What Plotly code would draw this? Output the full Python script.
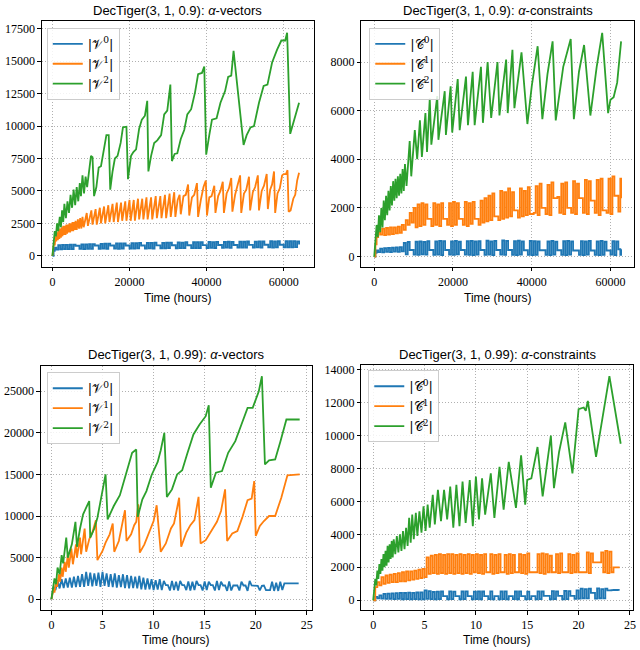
import plotly.graph_objects as go

# ---------------- DecTiger(3,1,0.9) : time grids (hours) ----------------
t_vec09 = [0, 300, 600, 1000, 1500, 2000, 2500, 3000, 3500, 4000,
           4500, 5000, 5500, 6000, 6500, 7000, 7500, 8000, 8500, 9000,
           9500, 10000, 10500, 11000, 11500, 12000, 12500, 13000, 13500, 14000,
           14500, 15000, 15500, 16000, 16500, 17000, 17500, 18000, 18500, 19000,
           19500, 20000, 20500, 21000, 21500, 22000, 22500, 23000, 23500, 24000,
           24500, 25000, 25500, 26000, 26500, 27000, 27500, 28000, 28500, 29000,
           29500, 30000, 30500, 31000, 31500, 32000, 32500, 33000, 33500, 34000,
           34500, 35000, 35500, 36000, 36500, 37000, 37500, 38000, 38500, 39000,
           39500, 40000, 40500, 41000, 41500, 42000, 42500, 43000, 43500, 44000,
           44500, 45000, 45500, 46000, 46500, 47000, 47500, 48000, 48500, 49000,
           49500, 50000, 50500, 51000, 51500, 52000, 52500, 53000, 53500, 54000,
           54500, 55000, 55500, 56000, 56500, 57000, 57500, 58000, 58500, 59000,
           59500, 60000, 60500, 61000, 61500, 62000, 62500, 63000, 63500, 64000]

t_con09 = [0, 300, 600, 1000, 1500, 2000, 2500, 3000, 3500, 4000,
           4500, 5000, 5500, 6000, 6500, 7000, 7500, 8000, 8500, 9000,
           9500, 10000, 10500, 11000, 11500, 12000, 12500, 13000, 13500, 14000,
           14500, 15000, 15500, 16000, 16500, 17000, 17500, 18000, 18500, 19000,
           19500, 20000, 20500, 21000, 21500, 22000, 22500, 23000, 23500, 24000,
           24500, 25000, 25500, 26000, 26500, 27000, 27500, 28000, 28500, 29000,
           29500, 30000, 30500, 31000, 31500, 32000, 32500, 33000, 33500, 34000,
           34500, 35000, 35500, 36000, 36500, 37000, 37500, 38000, 38500, 39000,
           39500, 40000, 40500, 41000, 41500, 42000, 42500, 43000, 43500, 44000,
           44500, 45000, 45500, 46000, 46500, 47000, 47500, 48000, 48500, 49000,
           49500, 50000, 50500, 51000, 51500, 52000, 52500, 53000, 53500, 54000,
           54500, 55000, 55500, 56000, 56500, 57000, 57500, 58000, 58500, 59000,
           59500, 60000, 60500, 61000, 61500, 62000, 62500, 62700]

# |V^0| (0.9)
v0_09 = [0, 380, 620, 480, 820, 500, 830, 520, 840, 510,
         850, 520, 860, 760, 770, 530, 870, 520, 880, 540,
         890, 530, 900, 780, 790, 540, 920, 550, 930, 540,
         940, 780, 790, 550, 950, 540, 960, 560, 950, 790,
         790, 560, 970, 550, 980, 570, 990, 790, 800, 560,
         1000, 570, 990, 560, 1010, 800, 800, 580, 1000, 570,
         1020, 590, 1010, 810, 810, 580, 1030, 590, 1020, 600,
         1040, 810, 820, 590, 1040, 600, 1050, 590, 1040, 820,
         820, 600, 1060, 610, 1050, 600, 1070, 830, 830, 610,
         1060, 620, 1080, 610, 1070, 830, 840, 620, 1090, 630,
         1080, 620, 1100, 840, 840, 630, 1090, 640, 1110, 630,
         1100, 850, 850, 640, 1120, 630, 1110, 650, 1120, 850,
         850, 640, 1130, 650, 1120, 640, 1130, 660, 1110, 870]

# |V^1| (0.9)  (hours, size)
v1_09 = [(0, 0), (200, 500), (400, 1000), (600, 800), (800, 1500), (1000, 1100), (1200, 1800), (1400, 1200),
         (1600, 2000), (1800, 1300), (2000, 2100), (2200, 1400), (2400, 2200), (2600, 1500), (2800, 2300),
         (3000, 1600), (3200, 2300), (3400, 1600), (3600, 2400), (3800, 1700), (4000, 2400), (4200, 1800),
         (4400, 2500), (4600, 1800), (4800, 2500), (5000, 1900), (5200, 2600), (5400, 1900), (5600, 2600),
         (5800, 2000), (6000, 2700), (6300, 2000), (6600, 2800), (6900, 2100), (7200, 2900), (7500, 2100),
         (7800, 3000), (8100, 2200),
         (8900, 3300), (9200, 2300), (10100, 3500), (10400, 2400), (11200, 3600), (11500, 2400), (12300, 3700),
         (12600, 2500), (13400, 3800), (13700, 2500), (14500, 3900), (14800, 2600), (15600, 4000), (15900, 2600),
         (16700, 4100), (17000, 2600), (17800, 4100), (18100, 2700), (18900, 4200), (19200, 2700), (20000, 4300),
         (20300, 2700), (21100, 4300), (21400, 2700), (22200, 4400), (22500, 2800), (23300, 4400), (23600, 2800),
         (24400, 4500), (24700, 2800), (25600, 4500), (25900, 2800), (26800, 4600), (27100, 2900), (28000, 4600),
         (28300, 2900), (29200, 4700), (29500, 2900), (30400, 4800), (30700, 3000), (31600, 4900), (31900, 3000),
         (32500, 4300), (33000, 4700), (33300, 3200), (34000, 4600), (34600, 4700), (35200, 5500), (35500, 3100),
         (36200, 4500), (36800, 4700), (37500, 5600), (37800, 3000), (38500, 4300), (39200, 5300), (39800, 5800),
         (40100, 3100), (40700, 4500), (41300, 4600), (42000, 5400), (42300, 3300), (43000, 4600), (43600, 5000),
         (44200, 5700), (44500, 3300), (45200, 4800), (45800, 5200), (46400, 6000), (46700, 3400), (47400, 4700),
         (48000, 5300), (48700, 6200), (49000, 3300), (49700, 4800), (50300, 5100), (51000, 6100), (51300, 3500),
         (52000, 4900), (52600, 5300), (53300, 6200), (53600, 3500), (54300, 5000), (54900, 5400), (55600, 6300),
         (55900, 3600), (56500, 5100), (57000, 5500), (57500, 6500), (57800, 3300), (58400, 4800), (59000, 5200),
         (59600, 6200), (60000, 6300), (60600, 6300), (61000, 6600), (61300, 3400), (61800, 3500), (62500, 4400),
         (63000, 4700), (63500, 5800), (64000, 6400)]

# |V^2| (0.9)
v2_09 = [(0, 0), (300, 1200), (600, 1900), (900, 1500), (1200, 2500), (1500, 1900), (1900, 3000), (2200, 2200),
         (2500, 3500), (2800, 2600), (3100, 4000), (3500, 2900), (3900, 4200), (4300, 3300), (4700, 4700),
         (5100, 3700), (5500, 5100), (5900, 3900), (6300, 5300), (6700, 4200), (7100, 5600), (7400, 4600),
         (7800, 6200), (8200, 4800), (8600, 6100), (9000, 5300), (9500, 6700), (10000, 7700), (10400, 7600),
         (10800, 4600), (11400, 5300), (12000, 6800), (12600, 6900), (13300, 8200), (14000, 9300), (14600, 9300),
         (15000, 5100), (15600, 6500), (16200, 7500), (16900, 7700), (17700, 8700), (18300, 9900), (19200, 9950),
         (19600, 5900), (20400, 7700), (21000, 8000), (21700, 8200), (22500, 9800), (23200, 10500), (24000, 10800),
         (24600, 11950), (24900, 6500), (25600, 7700), (26400, 8700), (27200, 8900), (28200, 9300), (29000, 10900),
         (29800, 11200), (30600, 13200), (31000, 7300), (31700, 7850), (32400, 7900), (33300, 9000), (34200, 9700),
         (35000, 10900), (36000, 11300), (37000, 12600), (37800, 14000), (38800, 14100), (39400, 14600),
         (39900, 7800), (40700, 9300), (41400, 10500), (42600, 10600), (43600, 11800), (44800, 12700),
         (45600, 13800), (46400, 13900), (47000, 15800), (49600, 8550), (50400, 9300), (51400, 9900),
         (52300, 10000), (53600, 11800), (54800, 13100), (55800, 13200), (57000, 14900), (58300, 15900),
         (59400, 16600), (60400, 16600), (60900, 17200), (61700, 9400), (62500, 10200), (63200, 11000),
         (64000, 11800)]

# |C^0| (0.9)
c0_09 = [0, 150, 250, 180, 330, 170, 350, 190, 360, 180,
         370, 200, 380, 190, 390, 210, 560, 90, 600, 270,
         270, 80, 610, 70, 620, 90, 600, 80, 630, 270,
         270, 70, 620, 80, 640, 60, 630, 270, 270, 80,
         620, 70, 640, 90, 610, 270, 270, 80, 630, 70,
         640, 60, 620, 80, 630, 270, 270, 70, 650, 80,
         620, 60, 640, 270, 270, 80, 660, 70, 640, 270,
         270, 70, 630, 60, 650, 80, 620, 260, 260, 70,
         640, 60, 630, 70, 620, 260, 260, 260, 70, 620,
         60, 640, 80, 610, 260, 260, 70, 630, 60, 640,
         80, 620, 250, 250, 250, 70, 630, 60, 620, 80,
         640, 250, 250, 70, 620, 60, 640, 70, 610, 250,
         250, 80, 630, 60, 620, 300, 70, 300]

# |C^1| (0.9)
c1_09 = [0, 500, 800, 1000, 900, 1150, 880, 1180, 900, 1200,
         920, 1200, 950, 1230, 980, 1300, 1100, 1500, 1300, 1800,
         1400, 2000, 1200, 2150, 1250, 2200, 1300, 2150, 1550, 1550,
         1250, 2200, 1300, 2150, 1250, 2200, 1550, 1550, 1300, 2200,
         1250, 2250, 1300, 2200, 1550, 1550, 1300, 2250, 1250, 2200,
         1350, 2250, 1550, 1550, 1300, 2300, 1400, 2400, 1450, 2500,
         1500, 2600, 1650, 1650, 1500, 2700, 1550, 2650, 1600, 2800,
         1650, 2650, 1900, 1900, 1600, 2800, 1650, 2700, 1700, 2850,
         1750, 1750, 1800, 2900, 1700, 3000, 2000, 2000, 1750, 2950,
         1700, 3050, 2400, 2400, 2450, 1800, 3000, 1750, 3050, 2000,
         2000, 1800, 3100, 1750, 3000, 2400, 2400, 1800, 3150, 1750,
         3100, 2300, 2300, 1800, 3150, 1700, 3200, 1900, 1900, 1800,
         3200, 1750, 3300, 2500, 2500, 1850, 3200, 2400]

# |C^2| (0.9)
c2_09 = [(0, 0), (300, 900), (600, 1300), (900, 800), (1200, 1700), (1500, 1000), (1800, 2000), (2100, 1200),
         (2400, 2300), (2700, 1500), (3000, 2500), (3300, 1700), (3600, 2700), (3900, 1900), (4200, 2900),
         (4500, 2100), (4800, 3100), (5100, 2300), (5400, 3200), (5700, 2400), (6000, 3300), (6300, 2500),
         (6600, 3400), (6900, 2600), (7200, 3600), (7500, 2700), (7800, 3800), (8200, 2900),
         (9000, 4750), (9400, 3300), (10300, 5200), (10900, 4000), (11600, 5600), (12100, 4100), (13000, 5900),
         (13400, 4300), (14100, 6500), (14500, 4600), (16000, 6600), (16300, 4800), (17900, 6800), (18200, 5000),
         (19400, 7000), (19800, 5100), (21200, 7300), (21700, 5200), (23300, 7400), (23800, 5400), (25000, 7600),
         (25500, 5400), (27100, 7800), (27600, 5500), (28800, 8000), (29700, 5700), (31300, 8000), (31800, 5800),
         (33500, 8100), (33900, 5900), (35100, 8500), (35600, 6100), (37400, 8400), (38900, 5450), (40000, 7000),
         (41500, 8650), (42700, 5650), (44000, 7500), (45300, 8850), (46100, 5600), (48000, 7800), (49900, 8950),
         (50700, 5650), (52000, 7600), (53300, 8700), (54900, 5800), (56500, 7800), (57900, 9200), (59400, 5900),
         (60000, 6450), (60800, 6550), (61700, 7150), (62700, 8850)]

# ---------------- DecTiger(3,1,0.99) ----------------
t_vec099 = [0.0, 0.2, 0.4, 0.6, 0.8, 1.0, 1.2, 1.4, 1.6, 1.8,
            2.0, 2.2, 2.4, 2.6, 2.8, 3.0, 3.2, 3.4, 3.6, 3.8,
            4.0, 4.2, 4.4, 4.6, 4.8, 5.0, 5.2, 5.4, 5.6, 5.8,
            6.0, 6.2, 6.4, 6.6, 6.8, 7.0, 7.2, 7.4, 7.6, 7.8,
            8.0, 8.2, 8.4, 8.6, 8.8, 9.0, 9.2, 9.4, 9.6, 9.8,
            10.0, 10.2, 10.4, 10.6, 10.8, 11.0, 11.2, 11.4, 11.6, 11.8,
            12.0, 12.2, 12.4, 12.6, 12.8, 13.0, 13.2, 13.4, 13.6, 13.8,
            14.0, 14.2, 14.4, 14.6, 14.8, 15.0, 15.2, 15.4, 15.6, 15.8,
            16.0, 16.2, 16.4, 16.6, 16.8, 17.0, 17.2, 17.4, 17.6, 17.8,
            18.0, 18.2, 18.4, 18.6, 18.8, 19.0, 19.2, 19.4, 19.6, 19.8,
            20.0, 20.2, 20.4, 20.6, 20.8, 21.0, 21.2, 21.4, 21.6, 21.8,
            22.0, 22.2, 22.4, 22.6, 22.8, 23.0, 23.2, 23.4, 23.6, 23.8,
            24.0, 24.2]

t_con099 = [0.0, 0.2, 0.4, 0.6, 0.8, 1.0, 1.2, 1.4, 1.6, 1.8,
            2.0, 2.2, 2.4, 2.6, 2.8, 3.0, 3.2, 3.4, 3.6, 3.8,
            4.0, 4.2, 4.4, 4.6, 4.8, 5.0, 5.2, 5.4, 5.6, 5.8,
            6.0, 6.2, 6.4, 6.6, 6.8, 7.0, 7.2, 7.4, 7.6, 7.8,
            8.0, 8.2, 8.4, 8.6, 8.8, 9.0, 9.2, 9.4, 9.6, 9.8,
            10.0, 10.2, 10.4, 10.6, 10.8, 11.0, 11.2, 11.4, 11.6, 11.8,
            12.0, 12.2, 12.4, 12.6, 12.8, 13.0, 13.2, 13.4, 13.6, 13.8,
            14.0, 14.2, 14.4, 14.6, 14.8, 15.0, 15.2, 15.4, 15.6, 15.8,
            16.0, 16.2, 16.4, 16.6, 16.8, 17.0, 17.2, 17.4, 17.6, 17.8,
            18.0, 18.2, 18.4, 18.6, 18.8, 19.0, 19.2, 19.4, 19.6, 19.8,
            20.0, 20.2, 20.4, 20.6, 20.8, 21.0, 21.2, 21.4, 21.6, 21.8,
            22.0, 22.2, 22.4, 22.6, 22.8, 23.0, 23.2, 23.4, 23.6, 23.8,
            24.0]

# |V^0| (0.99)
v0_099 = [0, 1500, 1100, 2300, 1300, 2400, 1350, 2500, 1400, 2600,
          1400, 2700, 1450, 2800, 1500, 3000, 1500, 3300, 1600, 3200,
          1550, 3100, 1600, 3200, 1500, 3300, 1600, 3100, 1500, 3000,
          1450, 3100, 1400, 2900, 1450, 3000, 1350, 2900, 1300, 2800,
          1350, 2700, 1300, 2800, 1200, 2600, 1150, 2500, 1200, 2400,
          1100, 2300, 1150, 2400, 1100, 2200, 1700, 1700, 1050, 2200,
          1100, 2100, 1050, 2200, 1700, 1700, 1100, 2150, 1050, 2100,
          1100, 2200, 1700, 1700, 1050, 2150, 1100, 2100, 1700, 1700,
          1050, 2200, 1100, 2100, 1650, 1650, 1000, 2150, 1050, 1650,
          1650, 1650, 1050, 2100, 1650, 1650, 1000, 2200, 1650, 1650,
          1600, 1600, 1050, 1600, 1650, 1100, 1100, 1100, 2100, 1000,
          2000, 1000, 2100, 1100, 1900, 1900, 1900, 1900, 1900, 1900,
          1900, 1900]

# |V^1| (0.99)
v1_099 = [(0, 0), (0.2, 1200), (0.3, 800), (0.45, 2200), (0.55, 1500), (0.75, 3000), (0.85, 2100), (1.0, 3800),
          (1.1, 2700), (1.3, 4500), (1.4, 3300), (1.6, 5300), (1.7, 3800), (1.95, 6100), (2.1, 4200), (2.4, 6600),
          (2.5, 5000), (2.8, 7400), (2.9, 5400), (3.25, 8500), (3.4, 5700), (3.7, 7200), (4.0, 8000), (4.35, 9500),
          (4.5, 4700), (5.0, 5800), (5.3, 6800), (5.7, 7800), (6.0, 9100), (6.15, 5700), (6.6, 7000), (7.2, 10700),
          (7.35, 7000), (7.8, 7800), (8.1, 8900), (8.3, 9300), (8.5, 11400), (8.65, 5600), (9.1, 6600), (9.6, 8200),
          (10.0, 9400), (10.3, 11300), (10.7, 5700), (11.2, 6700), (11.7, 8500), (12.0, 9100), (12.5, 12200),
          (12.7, 6300), (13.2, 8000), (13.6, 8900), (14.0, 9500), (14.4, 12300), (14.6, 6700), (15.1, 7100),
          (15.7, 8400), (16.2, 9300), (16.6, 10600), (17.0, 13200), (17.2, 7000), (17.7, 7900), (18.2, 8200),
          (18.7, 9900), (19.2, 11900), (19.6, 12100), (19.85, 14200), (20.0, 7600), (20.4, 8800), (20.8, 9400),
          (21.3, 10000), (21.9, 10000), (22.5, 12200), (23.1, 14900), (24.3, 15000)]

# |V^2| (0.99)
v2_099 = [(0, 0), (0.3, 2500), (0.45, 1800), (0.6, 3800), (0.8, 3000), (1.0, 5300), (1.15, 4300), (1.45, 7400),
          (1.6, 5000), (2.0, 6600), (2.35, 9300), (2.5, 6300), (2.8, 8500), (3.1, 10200), (3.4, 11000),
          (3.7, 11800), (3.8, 7400), (4.2, 8500), (4.5, 9800), (5.0, 13000), (5.3, 15000), (5.5, 9600),
          (6.1, 11200), (6.7, 12500), (7.3, 15000), (7.9, 17600), (8.3, 18000), (8.45, 9900), (8.9, 12000),
          (9.3, 13000), (9.8, 14900), (10.4, 16500), (10.7, 17900), (11.05, 20000), (11.3, 12300), (11.8, 13200),
          (12.3, 15000), (12.8, 15500), (13.3, 17500), (13.9, 19800), (14.5, 21000), (15.1, 22000), (15.4, 23300),
          (15.6, 13400), (16.1, 15200), (16.7, 15400), (17.3, 17600), (18.0, 19000), (18.6, 21000), (19.2, 23000),
          (19.7, 23000), (20.3, 25000), (20.6, 26800), (20.9, 16200), (21.3, 16700), (21.9, 16800), (22.4, 18900),
          (23.0, 21600), (24.3, 21600)]

# |C^0| (0.99)
c0_099 = [0, 200, 120, 300, 100, 380, 80, 400, 90, 420,
          70, 430, 80, 450, 60, 440, 70, 460, 60, 450,
          70, 470, 60, 480, 60, 600, 80, 550, 70, 500,
          60, 520, 70, 530, 250, 250, 60, 540, 70, 520,
          250, 250, 60, 530, 70, 540, 250, 250, 60, 520,
          70, 540, 60, 530, 250, 250, 70, 540, 60, 250,
          250, 60, 530, 70, 540, 60, 250, 250, 70, 530,
          60, 540, 250, 250, 60, 520, 70, 250, 250, 60,
          540, 70, 530, 260, 260, 260, 60, 550, 70, 540,
          260, 260, 60, 560, 70, 550, 270, 270, 80, 600,
          100, 700, 120, 680, 110, 700, 450, 450, 100, 720,
          120, 680, 110, 700, 600, 600, 610, 620, 620, 630,
          630]

# |C^1| (0.99)
c1_099 = [0, 800, 1100, 900, 1400, 1000, 1500, 1050, 1550, 1100,
          1600, 1100, 1650, 1150, 1700, 1150, 1750, 1200, 1750, 1250,
          1800, 1300, 1850, 1350, 1900, 1400, 2600, 1600, 2700, 1650,
          2750, 1600, 2800, 1650, 2750, 1600, 2800, 1650, 2800, 1600,
          2750, 1650, 2800, 1600, 2750, 1650, 2800, 1600, 2750, 1700,
          2800, 1650, 2750, 1600, 2800, 1700, 1700, 2800, 1600, 2750,
          1650, 2800, 1700, 1700, 2750, 1600, 2800, 1650, 2750, 1700,
          1700, 2800, 1650, 2750, 1600, 2850, 1700, 1700, 1700, 1700,
          2800, 1650, 2850, 1600, 2800, 1700, 2700, 1700, 1700, 2800,
          1650, 2850, 1700, 1700, 1700, 2800, 1650, 2750, 1700, 2850,
          1700, 1700, 1700, 1700, 2900, 1650, 2850, 2300, 2300, 2300,
          2300, 2900, 1700, 3000, 1650, 2950, 1700, 2000, 2000, 2000,
          2000]

# |C^2| (0.99)
c2_099 = [(0, 0), (0.1, 700), (0.2, 1300), (0.3, 900), (0.4, 1800), (0.5, 1300), (0.6, 2200), (0.7, 1600),
          (0.8, 2500), (0.9, 1800), (1.0, 2800), (1.1, 2000), (1.2, 3000), (1.3, 2100), (1.4, 3300), (1.5, 2300),
          (1.6, 3400), (1.7, 2500), (1.8, 3600), (1.9, 2600), (2.0, 3700), (2.15, 2800), (2.3, 3900), (2.45, 2900),
          (2.6, 4000), (2.75, 3000), (2.9, 4200), (3.05, 3100), (3.2, 4400), (3.35, 3300), (3.5, 5000),
          (3.65, 3500), (3.8, 5200), (3.95, 3700), (4.15, 5300), (4.3, 3900), (4.5, 5400), (4.7, 4100),
          (4.9, 5700), (5.1, 4200), (5.3, 5800), (5.5, 4400), (5.8, 6400), (6.0, 4600), (6.3, 6700), (6.6, 4800),
          (6.9, 6700), (7.2, 4900), (7.5, 6900), (7.8, 4400), (8.1, 7000), (8.4, 4500), (8.7, 7200), (9.0, 4700),
          (9.4, 7300), (9.7, 4500), (10.0, 7500), (10.3, 4900), (10.6, 7400), (10.9, 5200), (11.3, 7000),
          (11.45, 7700), (11.8, 5000), (12.3, 8100), (12.7, 5500), (13.2, 8400), (13.9, 5600), (14.4, 8800),
          (14.8, 5800), (15.0, 7300), (15.4, 7400), (16.0, 9300), (16.5, 6300), (17.3, 10000), (17.6, 6800),
          (18.1, 9000), (18.7, 10800), (19.4, 7700), (20.0, 11600), (20.5, 11700), (20.7, 11500), (20.9, 12100),
          (21.7, 8700), (22.3, 11000), (23.0, 13600), (24.1, 9500)]

# ---------------- labels ----------------
titles = ["DecTiger(3, 1, 0.9): <i>α</i>-vectors", "DecTiger(3, 1, 0.9): <i>α</i>-constraints",
          "DecTiger(3, 1, 0.99): <i>α</i>-vectors", "DecTiger(3, 1, 0.99): <i>α</i>-constraints"]
names_v = ["|𝒱<sup>0</sup>|", "|𝒱<sup>1</sup>|", "|𝒱<sup>2</sup>|"]
names_c = ["|𝒞<sup>0</sup>|", "|𝒞<sup>1</sup>|", "|𝒞<sup>2</sup>|"]
xlabel = "Time (hours)"
x_ticks_09 = [0, 20000, 40000, 60000]
x_ticks_099 = [0, 5, 10, 15, 20, 25]
y_ticks_tl = [0, 2500, 5000, 7500, 10000, 12500, 15000, 17500]
y_ticks_tr = [0, 2000, 4000, 6000, 8000]
y_ticks_bl = [0, 5000, 10000, 15000, 20000, 25000]
y_ticks_br = [0, 2000, 4000, 6000, 8000, 10000, 12000, 14000]

colors = ["#1f77b4", "#ff7f0e", "#2ca02c"]

fig = go.Figure()


def unzip(pairs):
    return [p[0] for p in pairs], [p[1] for p in pairs]


def add(x, y, i, name, k, shape="linear"):
    fig.add_trace(go.Scatter(
        x=x, y=y, mode="lines", name=name,
        line=dict(color=colors[i], width=1.8, shape=shape),
        xaxis="x" + ("" if k == 1 else str(k)),
        yaxis="y" + ("" if k == 1 else str(k)),
        legend="legend" + ("" if k == 1 else str(k)),
        hoverinfo="skip"))


# panel 1
add(t_vec09, v0_09, 0, names_v[0], 1, "hv")
add(*unzip(v1_09), 1, names_v[1], 1)
add(*unzip(v2_09), 2, names_v[2], 1)
# panel 2
add(t_con09, c0_09, 0, names_c[0], 2, "hv")
add(t_con09, c1_09, 1, names_c[1], 2, "hv")
add(*unzip(c2_09), 2, names_c[2], 2)
# panel 3
add(t_vec099, v0_099, 0, names_v[0], 3)
add(*unzip(v1_099), 1, names_v[1], 3)
add(*unzip(v2_099), 2, names_v[2], 3)
# panel 4
add(t_con099, c0_099, 0, names_c[0], 4, "hv")
add(t_con099, c1_099, 1, names_c[1], 4, "hv")
add(*unzip(c2_099), 2, names_c[2], 4)

W, H = 640, 650
tickfont = dict(family="Liberation Serif", size=12, color="black")


def ax(domain, rng, ticks, anchor):
    return dict(domain=domain, range=rng, tickvals=ticks, tickformat="d",
                showline=True, mirror=True, linecolor="black", linewidth=1,
                ticks="outside", ticklen=3.5, tickwidth=0.8, tickcolor="black",
                showgrid=True, gridcolor="#b0b0b0", gridwidth=0.8, griddash="1px,2px",
                zeroline=False, tickfont=tickfont, anchor=anchor)


panels = [
    # (x px range, y px range(top,bottom), xrange, yrange, xticks, yticks)
    ((42, 315), (18, 265), [-2760, 67750], [-850, 18110], x_ticks_09, y_ticks_tl),
    ((363, 637), (18, 265), [-3290, 65980], [-420, 9690], x_ticks_09, y_ticks_tr),
    ((41, 313), (365, 610), [-1.04, 25.46], [-1316, 27990], x_ticks_099, y_ticks_bl),
    ((363, 636), (364, 610), [-1.16, 25.3], [-604, 14260], x_ticks_099, y_ticks_br),
]
legend_pos = [(47, 25), (371, 25), (47, 371), (370, 369)]
title_y = [8, 8, 353, 353]
xlabel_y = [296, 296, 640, 640]

layout = dict(width=W, height=H, margin=dict(l=0, r=0, t=0, b=0),
              paper_bgcolor="white", plot_bgcolor="white", showlegend=True,
              annotations=[])
for k, (xp, yp, xr, yr, xt, yt) in enumerate(panels, start=1):
    sfx = "" if k == 1 else str(k)
    xd = [xp[0] / W, xp[1] / W]
    yd = [1 - yp[1] / H, 1 - yp[0] / H]
    layout["xaxis" + sfx] = ax(xd, xr, xt, "y" + sfx)
    layout["yaxis" + sfx] = ax(yd, yr, yt, "x" + sfx)
    lx, ly = legend_pos[k - 1]
    layout["legend" + sfx] = dict(x=lx / W, y=1 - ly / H, xanchor="left", yanchor="top",
                                  bgcolor="rgba(255,255,255,0.85)", bordercolor="#cccccc",
                                  borderwidth=1, font=dict(family="DejaVu Serif", size=13, color="black"),
                                  tracegroupgap=0, itemwidth=30)
    cx = (xp[0] + xp[1]) / 2 / W
    layout["annotations"].append(dict(text=titles[k - 1], x=cx, y=1 - title_y[k - 1] / H,
                                      xref="paper", yref="paper", showarrow=False,
                                      xanchor="center", yanchor="middle",
                                      font=dict(family="Liberation Sans", size=13, color="black")))
    layout["annotations"].append(dict(text=xlabel, x=cx, y=1 - xlabel_y[k - 1] / H,
                                      xref="paper", yref="paper", showarrow=False,
                                      xanchor="center", yanchor="middle",
                                      font=dict(family="Liberation Sans", size=12, color="black")))

fig.update_layout(**layout)
fig.write_html("out.html", config={"displayModeBar": False},
               post_script="document.body.style.margin='0';document.body.style.overflow='hidden';")
